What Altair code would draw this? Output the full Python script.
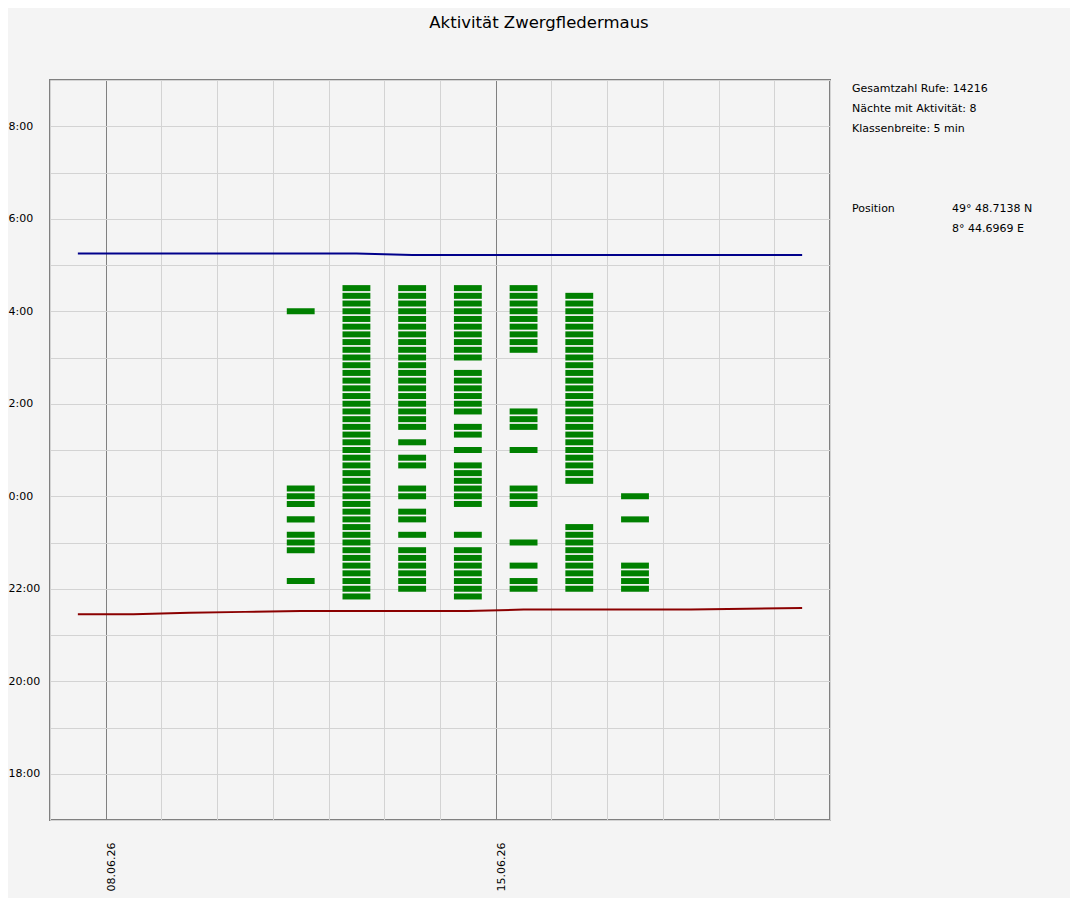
import altair as alt
import pandas as pd

# ---------------- data ----------------
night_dates = ["2026-06-11", "2026-06-12", "2026-06-13", "2026-06-14",
               "2026-06-15", "2026-06-16", "2026-06-17"]

night_a = ["04:00", "00:10", "00:00", "23:50", "23:30", "23:10", "23:00",
           "22:50", "22:10"]

night_b = ["21:50", "22:00", "22:10", "22:20", "22:30", "22:40", "22:50",
           "23:00", "23:10", "23:20", "23:30", "23:40", "23:50", "00:00",
           "00:10", "00:20", "00:30", "00:40", "00:50", "01:00", "01:10",
           "01:20", "01:30", "01:40", "01:50", "02:00", "02:10", "02:20",
           "02:30", "02:40", "02:50", "03:00", "03:10", "03:20", "03:30",
           "03:40", "03:50", "04:00", "04:10", "04:20", "04:30"]

night_c = ["04:30", "04:20", "04:10", "04:00", "03:50", "03:40", "03:30",
           "03:20", "03:10", "03:00", "02:50", "02:40", "02:30", "02:20",
           "02:10", "02:00", "01:50", "01:40", "01:30", "01:10", "00:50",
           "00:40", "00:10", "00:00", "23:40", "23:30", "23:10", "22:50",
           "22:40", "22:30", "22:20", "22:10", "22:00"]

night_d = ["04:30", "04:20", "04:10", "04:00", "03:50", "03:40", "03:30",
           "03:20", "03:10", "03:00", "02:40", "02:30", "02:20", "02:10",
           "02:00", "01:50", "01:30", "01:20", "01:00", "00:40", "00:30",
           "00:20", "00:10", "00:00", "23:50", "23:10", "22:50", "22:40",
           "22:30", "22:20", "22:10", "22:00", "21:50"]

night_e = ["04:30", "04:20", "04:10", "04:00", "03:50", "03:40", "03:30",
           "03:20", "03:10", "01:50", "01:40", "01:30", "01:00", "00:10",
           "00:00", "23:50", "23:00", "22:30", "22:10", "22:00"]

night_f = ["04:20", "04:10", "04:00", "03:50", "03:40", "03:30", "03:20",
           "03:10", "03:00", "02:50", "02:40", "02:30", "02:20", "02:10",
           "02:00", "01:50", "01:40", "01:30", "01:20", "01:10", "01:00",
           "00:50", "00:40", "00:30", "00:20", "23:20", "23:10", "23:00",
           "22:50", "22:40", "22:30", "22:20", "22:10", "22:00"]

night_g = ["00:00", "23:30", "22:30", "22:20", "22:10", "22:00"]

night_times = [night_a, night_b, night_c, night_d, night_e, night_f, night_g]

sun_dates = ["2026-06-07", "2026-06-08", "2026-06-09", "2026-06-10",
             "2026-06-11", "2026-06-12", "2026-06-13", "2026-06-14",
             "2026-06-15", "2026-06-16", "2026-06-17", "2026-06-18",
             "2026-06-19", "2026-06-20"]
sunset = ["21:27", "21:27", "21:29", "21:30", "21:31", "21:31", "21:31",
          "21:31", "21:33", "21:33", "21:33", "21:33", "21:34", "21:35"]
sunrise = ["05:15", "05:15", "05:15", "05:15", "05:15", "05:15", "05:13",
           "05:13", "05:13", "05:13", "05:13", "05:13", "05:13", "05:13"]

title_text = "Aktivität Zwergfledermaus"
info_lines = ["Gesamtzahl Rufe: 14216", "Nächte mit Aktivität: 8",
              "Klassenbreite: 5 min"]
pos_label = "Position"
pos_values = ["49° 48.7138 N", "8° 44.6969 E"]

# ---------------- helpers ----------------
FONT = "DejaVu Sans"
HALF = 0.065  # half bar height in hours (visual style)


def to_hours(s):
    h, m = map(int, s.split(":"))
    v = h + m / 60.0
    return v - 24 if h >= 12 else v


rows = []
for d, times in zip(night_dates, night_times):
    for t in times:
        v = to_hours(t)
        rows.append({"x0": f"{d}T06:00:00Z", "x1": f"{d}T18:00:00Z",
                     "y0": v - HALF, "y1": v + HALF})
bars = pd.DataFrame(rows)

sun = pd.DataFrame({
    "date": [f"{d}T12:00:00Z" for d in sun_dates],
    "sunset": [to_hours(s) for s in sunset],
    "sunrise": [to_hours(s) for s in sunrise],
})

x_scale = alt.Scale(type="utc",
                    domain=[alt.DateTime(year=2026, month=6, date=7, utc=True),
                            alt.DateTime(year=2026, month=6, date=21, utc=True)],
                    nice=False)
y_scale = alt.Scale(domain=[-7, 9], nice=False, zero=False)

x_axis = alt.Axis(
    title=None, domain=False, ticks=False,
    tickCount={"interval": "day", "step": 1},
    grid=True,
    gridColor={"condition": {"test": "utcday(datum.value) == 1", "value": "#808080"},
               "value": "#d3d3d3"},
    labelExpr="utcday(datum.value) == 1 ? utcFormat(datum.value, '%d.%m.%y') : ''",
    labelAngle=270, labelAlign="right", labelBaseline="top",
    labelPadding=22, labelOverlap=False, labelFlush=False, labelBound=False,
    labelFont=FONT, labelFontSize=11, labelColor="#000000",
)
y_axis = alt.Axis(
    title=None, domain=False, ticks=False,
    values=list(range(-7, 10)),
    grid=True, gridColor="#d3d3d3",
    labelExpr="datum.value % 2 == 0 ? ((datum.value + 24) % 24) + ':00' : ''",
    labelAlign="left", labelPadding=42,
    labelFont=FONT, labelFontSize=11, labelColor="#000000",
    labelOverlap=False, labelFlush=False,
)

bar_layer = alt.Chart(bars).mark_rect(color="#008000").encode(
    x=alt.X("x0:T", scale=x_scale, axis=x_axis),
    x2="x1:T",
    y=alt.Y("y0:Q", scale=y_scale, axis=y_axis),
    y2="y1:Q",
)

sunset_layer = alt.Chart(sun).mark_line(color="#8b0000", strokeWidth=2).encode(
    x=alt.X("date:T", scale=x_scale),
    y=alt.Y("sunset:Q", scale=y_scale),
)
sunrise_layer = alt.Chart(sun).mark_line(color="#00008b", strokeWidth=2).encode(
    x=alt.X("date:T", scale=x_scale),
    y=alt.Y("sunrise:Q", scale=y_scale),
)


def text_layer(txt, px, py, size=11, align="left"):
    return alt.Chart(pd.DataFrame({"label": [txt]})).mark_text(
        font=FONT, fontSize=size, color="#000000", align=align,
        baseline="alphabetic").encode(
        x=alt.value(px), y=alt.value(py), text="label:N")


texts = [text_layer(title_text, 489, -52, size=16.5, align="center")]
for i, line in enumerate(info_lines):
    texts.append(text_layer(line, 802, 11.5 + 20 * i))
texts.append(text_layer(pos_label, 802, 131.5))
for i, line in enumerate(pos_values):
    texts.append(text_layer(line, 902, 131.5 + 20 * i))

chart = alt.layer(bar_layer, sunset_layer, sunrise_layer, *texts).properties(
    width=780, height=740,
    padding={"left": 42, "top": 72, "right": 240, "bottom": 78},
    autosize="none",
    background="#f4f4f4",
).configure_view(
    stroke="#808080", strokeWidth=2, fill="#f4f4f4"
)

chart.save("out.html", embed_options={"renderer": "svg", "actions": False})
